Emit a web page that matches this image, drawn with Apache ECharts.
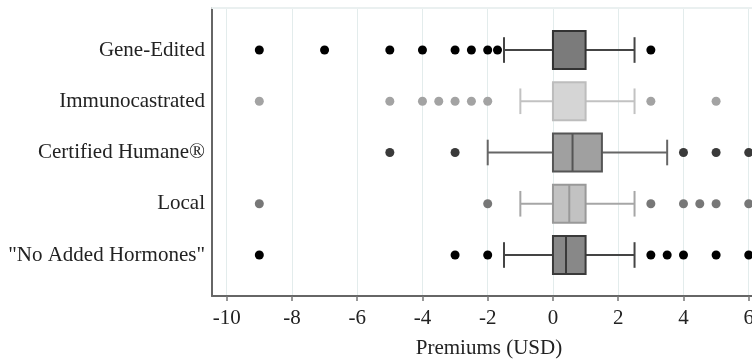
<!DOCTYPE html>
<html>
<head>
<meta charset="utf-8">
<script src="https://cdn.jsdelivr.net/npm/echarts@6/dist/echarts.min.js"></script>
<style>
html,body{margin:0;padding:0;background:#fff;}
#c{width:752px;height:363px;}
</style>
</head>
<body>
<div id="c"></div>
<script>
// ---- data ----
const categories = ['Gene-Edited', 'Immunocastrated', 'Certified Humane®', 'Local', '"No Added Hormones"'];
// [lowWhisker, Q1, median, Q3, highWhisker]
const geneEditedBox = [-1.5, 0, 0, 1, 2.5];
const immunocastratedBox = [-1, 0, 0, 1, 2.5];
const certifiedHumaneBox = [-2, 0, 0.6, 1.5, 3.5];
const localBox = [-1, 0, 0.5, 1, 2.5];
const noAddedHormonesBox = [-1.5, 0, 0.4, 1, 2.5];

const geneEditedOutliers = [-9, -7, -5, -4, -3, -2.5, -2, -1.7, 3];
const immunocastratedOutliers = [-9, -5, -4, -3.5, -3, -2.5, -2, 3, 5];
const certifiedHumaneOutliers = [-5, -3, 4, 5, 6];
const localOutliers = [-9, -2, 3, 4, 4.5, 5, 6];
const noAddedHormonesOutliers = [-9, -3, -2, 3, 3.5, 4, 5, 6];

const xTicks = [-10, -8, -6, -4, -2, 0, 2, 4, 6];
const xTitle = 'Premiums (USD)';

// ---- styles (separate from data) ----
const boxFill = ['#7b7b7b', '#d5d5d5', '#a0a0a0', '#c2c2c2', '#888888'];
const boxBorder = ['#333333', '#bdbdbd', '#555555', '#999999', '#3a3a3a'];
const whiskerColor = ['#444444', '#c2c2c2', '#666666', '#a6a6a6', '#444444'];
const outlierColor = ['#000000', '#a3a3a3', '#3a3a3a', '#777777', '#000000'];

const boxes = [geneEditedBox, immunocastratedBox, certifiedHumaneBox, localBox, noAddedHormonesBox];
const outliers = [geneEditedOutliers, immunocastratedOutliers, certifiedHumaneOutliers, localOutliers, noAddedHormonesOutliers];

const boxData = boxes.map((b, i) => [i + 1].concat(b));

function renderBox(params, api) {
  const i = params.dataIndex;
  const y = api.value(0);
  const lo = api.coord([api.value(1), y]);
  const q1 = api.coord([api.value(2), y]);
  const md = api.coord([api.value(3), y]);
  const q3 = api.coord([api.value(4), y]);
  const hi = api.coord([api.value(5), y]);
  const unit = Math.abs(api.size([0, 1])[1]);
  const bh = unit * 0.74;
  const ch = unit * 0.5;
  const cy = lo[1];
  const wStyle = { stroke: whiskerColor[i], lineWidth: 2, fill: null };
  return {
    type: 'group',
    children: [
      { type: 'line', shape: { x1: lo[0], y1: cy, x2: q1[0], y2: cy }, style: wStyle },
      { type: 'line', shape: { x1: q3[0], y1: cy, x2: hi[0], y2: cy }, style: wStyle },
      { type: 'line', shape: { x1: lo[0], y1: cy - ch / 2, x2: lo[0], y2: cy + ch / 2 }, style: wStyle },
      { type: 'line', shape: { x1: hi[0], y1: cy - ch / 2, x2: hi[0], y2: cy + ch / 2 }, style: wStyle },
      { type: 'rect', shape: { x: q1[0], y: cy - bh / 2, width: q3[0] - q1[0], height: bh },
        style: { fill: boxFill[i], stroke: boxBorder[i], lineWidth: 2 } },
      { type: 'line', shape: { x1: md[0], y1: cy - bh / 2, x2: md[0], y2: cy + bh / 2 },
        style: { stroke: boxBorder[i], lineWidth: 2 } }
    ]
  };
}

const series = [{
  type: 'custom',
  renderItem: renderBox,
  data: boxData,
  encode: { x: [1, 2, 3, 4, 5], y: 0 },
  z: 3,
  silent: true
}];
outliers.forEach((arr, i) => {
  series.push({
    type: 'scatter',
    symbol: 'circle',
    symbolSize: 9,
    data: arr.map(v => [v, i + 1]),
    itemStyle: { color: outlierColor[i], opacity: 1 },
    z: 4,
    silent: true
  });
});

const font = '"Liberation Serif", "Times New Roman", serif';
const chart = echarts.init(document.getElementById('c'), null, { renderer: 'canvas' });
chart.setOption({
  animation: false,
  backgroundColor: '#ffffff',
  grid: { left: 212, right: 0, top: 8, bottom: 67, containLabel: false, outerBoundsMode: 'none' },
  xAxis: [{
    type: 'value',
    min: -10.45,
    max: 6.1,
    position: 'bottom',
    name: xTitle,
    nameLocation: 'middle',
    nameGap: 42,
    nameTextStyle: { fontFamily: font, fontSize: 21, color: '#222', padding: [0, 0, 0, 14] },
    axisLine: { show: true, onZero: false, lineStyle: { color: '#666', width: 2 } },
    axisTick: { show: true, customValues: xTicks, length: 5, lineStyle: { color: '#777', width: 1.5 } },
    axisLabel: { customValues: xTicks, margin: 12, fontFamily: font, fontSize: 21, color: '#222' },
    splitLine: { show: true, lineStyle: { color: '#e3ecec', width: 1 } }
  }, {
    type: 'value',
    min: -10.45,
    max: 6.1,
    position: 'top',
    axisLine: { show: true, onZero: false, lineStyle: { color: '#eaf0f0', width: 2 } },
    axisTick: { show: false },
    axisLabel: { show: false },
    splitLine: { show: false }
  }],
  yAxis: {
    type: 'value',
    inverse: true,
    min: 0.18,
    max: 5.8,
    axisLine: { show: true, onZero: false, lineStyle: { color: '#666', width: 2 } },
    axisTick: { show: false, customValues: [1, 2, 3, 4, 5] },
    axisLabel: {
      customValues: [1, 2, 3, 4, 5],
      formatter: v => categories[Math.round(v) - 1] || '',
      margin: 7,
      fontFamily: font,
      fontSize: 21,
      color: '#222'
    },
    splitLine: { show: false }
  },
  series: series
});
</script>
</body>
</html>
